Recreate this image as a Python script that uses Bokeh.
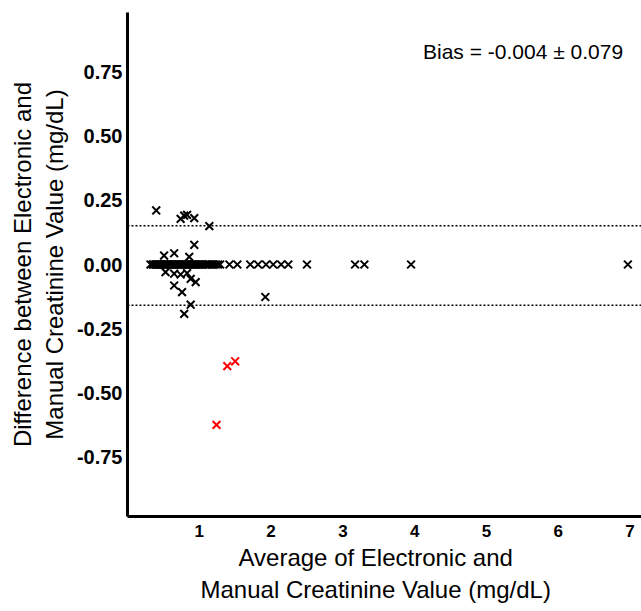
from bokeh.plotting import figure
from bokeh.models import (Span, Label, FixedTicker, PrintfTickFormatter, ColumnDataSource,
                          Range1d, LinearAxis, Title)
from bokeh.embed import file_html
from bokeh.resources import INLINE

# ---- data ----
# points lying on the zero line
zero_x = [0.32, 0.35, 0.37, 0.39, 0.40, 0.42, 0.43, 0.45, 0.46, 0.48, 0.50, 0.51,
          0.53, 0.55, 0.56, 0.58, 0.60, 0.61, 0.63, 0.65, 0.66, 0.68, 0.70, 0.71,
          0.73, 0.75, 0.76, 0.78, 0.80, 0.81, 0.83, 0.85, 0.86, 0.88, 0.90, 0.91,
          0.93, 0.95, 0.97, 0.99, 1.01, 1.03, 1.05, 1.08, 1.10, 1.13, 1.15, 1.18,
          1.20, 1.23, 1.26, 1.29, 1.42, 1.53, 1.71, 1.82, 1.93, 2.03, 2.14, 2.24,
          2.50, 3.17, 3.30, 3.95, 6.97]
zero_y = [0.0] * len(zero_x)

# points off the zero line (black)
off_x = [0.40, 0.74, 0.79, 0.83, 0.93, 1.14, 0.93, 0.51, 0.65, 0.86,
         0.53, 0.65, 0.74, 0.83, 0.95, 0.88, 0.65, 0.76, 0.88, 0.79, 1.92]
off_y = [0.211, 0.178, 0.191, 0.194, 0.181, 0.150, 0.077, 0.035, 0.044, 0.030,
         -0.030, -0.036, -0.039, -0.034, -0.069, -0.056, -0.082, -0.108, -0.157, -0.193, -0.127]

# outliers (red)
red_x = [1.24, 1.39, 1.50]
red_y = [-0.626, -0.397, -0.378]

bias = -0.004
sd = 0.079
y_ticks = [-0.75, -0.5, -0.25, 0.0, 0.25, 0.5, 0.75]
x_ticks = [1, 2, 3, 4, 5, 6, 7]
x_title = ["Average of Electronic and", "Manual Creatinine Value (mg/dL)"]
y_title = "Difference between Electronic and\nManual Creatinine Value (mg/dL)"

upper = bias + 1.96 * sd
lower = bias - 1.96 * sd

FONT = "Liberation Sans"

p = figure(width=641, height=611, output_backend="svg", toolbar_location=None,
           x_range=Range1d(0.0, 7.16), y_range=Range1d(-0.984, 0.984),
           min_border_left=127, min_border_right=0, min_border_top=12, min_border_bottom=95)

p.outline_line_color = None
p.xgrid.visible = False
p.ygrid.visible = False
p.background_fill_color = "white"
p.border_fill_color = "white"

black_src = ColumnDataSource(dict(x=zero_x + off_x, y=zero_y + off_y))
p.scatter("x", "y", source=black_src, marker="x", size=11, line_color="black", line_width=2)
red_src = ColumnDataSource(dict(x=red_x, y=red_y))
p.scatter("x", "y", source=red_src, marker="x", size=11, line_color="#ff0000", line_width=2)

for v in (upper, lower):
    p.add_layout(Span(location=v, dimension="width", line_color="black",
                      line_width=1.5, line_dash="2 2"))

p.add_layout(Label(x=5.51, y=0.832, text=f"Bias = {bias:.3f} ± {sd:.3f}",
                   text_align="center", text_baseline="middle",
                   text_font=FONT, text_font_size="21px", text_color="black"))

for ax in (p.xaxis[0], p.yaxis[0]):
    ax.axis_line_width = 3
    ax.axis_line_color = "black"
    ax.major_tick_out = 0
    ax.major_tick_in = 0
    ax.minor_tick_out = 0
    ax.minor_tick_in = 0
    ax.major_label_text_font = FONT
    ax.major_label_text_font_style = "bold"
    ax.major_label_text_color = "black"

p.yaxis.ticker = FixedTicker(ticks=y_ticks)
p.yaxis.formatter = PrintfTickFormatter(format="%.2f")
p.yaxis.major_label_text_font_size = "20px"
p.yaxis.major_label_standoff = 5

p.xaxis.ticker = FixedTicker(ticks=x_ticks)
p.xaxis.major_label_text_font_size = "17px"
p.xaxis.major_label_standoff = 8

# y-axis title: an extra, line-less axis carrying the two-line label
ytitle_axis = LinearAxis(ticker=FixedTicker(ticks=[]), axis_label=y_title,
                         axis_line_color=None, major_tick_out=0, major_tick_in=0,
                         minor_tick_out=0, minor_tick_in=0, major_label_standoff=0,
                         axis_label_standoff=6, axis_label_text_font=FONT,
                         axis_label_text_font_style="normal", axis_label_text_font_size="24px",
                         axis_label_text_color="black", axis_label_text_line_height=1.15)
p.add_layout(ytitle_axis, "left")

# x-axis title: two titles below the axis
for txt, off, so in zip(x_title, (111, 73), (5, 0)):
    p.add_layout(Title(text=txt, align="left", offset=off, standoff=so,
                       text_font=FONT, text_font_size="24px", text_font_style="normal",
                       text_color="black"), "below")

open("out.html", "w").write(file_html(p, INLINE))
